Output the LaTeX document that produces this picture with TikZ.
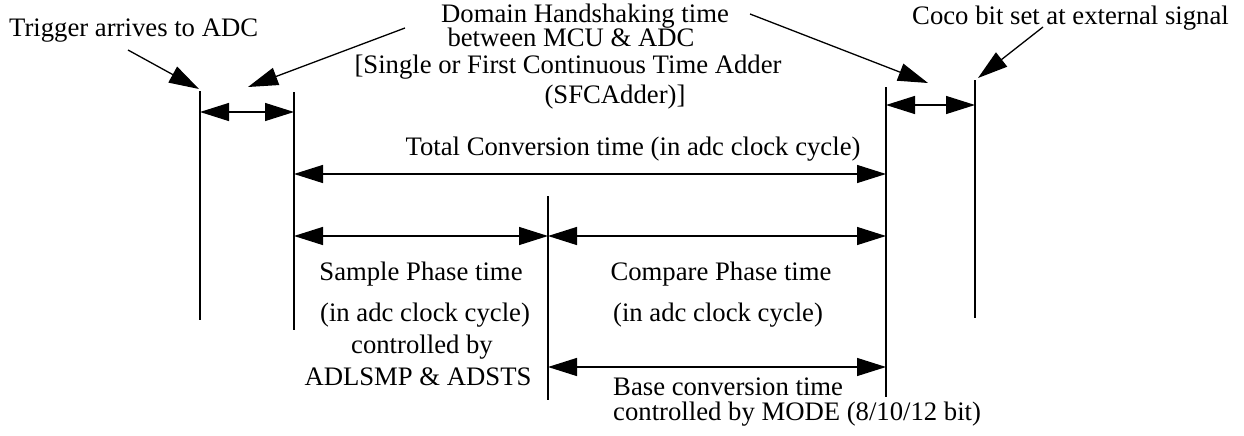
\documentclass[tikz,border=0pt]{standalone}
\usepackage{fontspec}
\setmainfont{Liberation Serif}
\usetikzlibrary{arrows.meta}
\tikzset{
  lbl/.style={inner sep=0pt, anchor=base, font=\fontsize{26.7}{30}\selectfont},
  lblw/.style={lbl, anchor=base west},
  vline/.style={line width=1.3pt},
  dim/.style={line width=1.3pt, {Triangle[length=29pt,width=18pt]}-{Triangle[length=29pt,width=18pt]}},
  ptr/.style={line width=1.3pt, -{Triangle[length=30pt,width=18pt]}}
}
\begin{document}
\begin{tikzpicture}[x=1pt,y=-1pt]
\useasboundingbox (0,0) rectangle (1244,436);
% vertical lines
\coordinate (l1t) at (200,91);  \coordinate (l1b) at (200,320);
\coordinate (l2t) at (294,92);  \coordinate (l2b) at (294,330);
\coordinate (l3t) at (548,196); \coordinate (l3b) at (548,400);
\coordinate (l4t) at (886,87);  \coordinate (l4b) at (886,397);
\coordinate (l5t) at (975,80);  \coordinate (l5b) at (975,318);
\draw[vline] (l1t) -- (l1b);
\draw[vline] (l2t) -- (l2b);
\draw[vline] (l3t) -- (l3b);
\draw[vline] (l4t) -- (l4b);
\draw[vline] (l5t) -- (l5b);
% dimension arrows
\coordinate (h1a) at (200,112); \coordinate (h1b) at (294,112);
\coordinate (h2a) at (886,105); \coordinate (h2b) at (975,105);
\coordinate (ta) at (294,174); \coordinate (tb) at (886,174);
\coordinate (sa) at (294,236); \coordinate (sb) at (548,236);
\coordinate (ca) at (548,236); \coordinate (cb) at (886,236);
\coordinate (ba) at (548,367); \coordinate (bb) at (886,367);
\draw[dim] (h1a) -- (h1b);
\draw[dim] (h2a) -- (h2b);
\draw[dim] (ta) -- (tb);
\draw[dim] (sa) -- (sb);
\draw[dim] (ca) -- (cb);
\draw[dim] (ba) -- (bb);
% texts
\node[lblw] (trig) at (9,37) {Trigger arrives to ADC};
\node[lbl] (dom1) at (585,23) {Domain Handshaking time};
\node[lbl] (dom2) at (571,47) {between MCU \& ADC};
\node[lbl] (dom3) at (568,74) {[Single or First Continuous Time Adder};
\node[lbl] (dom4) at (615,103) {(SFCAdder)]};
\node[lblw] (coco) at (912,25) {Coco bit set at external signal};
\node[lbl] (total) at (633,155) {Total Conversion time (in adc clock cycle)};
\node[lbl] (smp1) at (421,280) {Sample Phase time};
\node[lbl] (smp2) at (425,321) {(in adc clock cycle)};
\node[lbl] (smp3) at (422,353) {controlled by};
\node[lbl] (smp4) at (418,385) {ADLSMP \& ADSTS};
\node[lbl] (cmp1) at (721,280) {Compare Phase time};
\node[lbl] (cmp2) at (718,321) {(in adc clock cycle)};
\node[lblw] (base1) at (613,395) {Base conversion time};
\node[lblw] (base2) at (613,420) {controlled by MODE (8/10/12 bit)};
% pointer arrows
\coordinate (p1s) at (128,50);  \coordinate (p1e) at (199,89);
\coordinate (p2s) at (405,28);  \coordinate (p2e) at (248,87);
\coordinate (p3s) at (750,14);  \coordinate (p3e) at (928,83);
\coordinate (p4s) at (1043,27); \coordinate (p4e) at (978,78);
\draw[ptr] (p1s) -- (p1e);
\draw[ptr] (p2s) -- (p2e);
\draw[ptr] (p3s) -- (p3e);
\draw[ptr] (p4s) -- (p4e);
\end{tikzpicture}
\end{document}
